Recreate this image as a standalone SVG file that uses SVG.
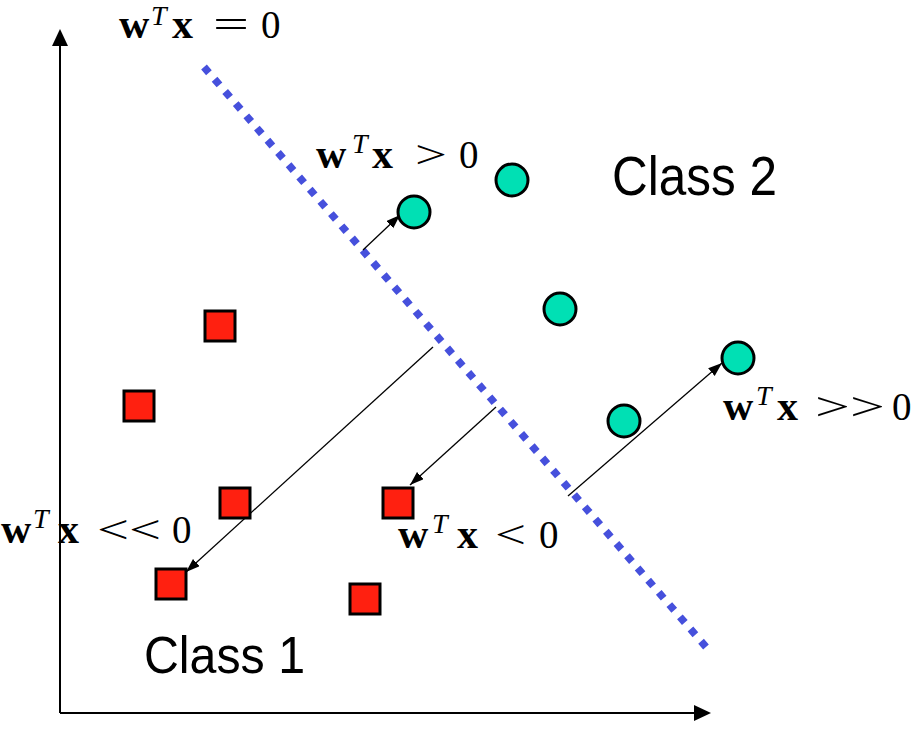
<svg xmlns="http://www.w3.org/2000/svg" width="918" height="753" viewBox="0 0 918 753">
<defs>
<style>
.axis{stroke:#000;stroke-width:2;fill:none}
.ah{fill:#000}
.bound{stroke:#4650dc;stroke-width:7.5;stroke-dasharray:7.5 8.66;fill:none}
.conn{stroke:#000;stroke-width:1.3;fill:none;marker-end:url(#arr)}
.c2{fill:#00e0b4;stroke:#000;stroke-width:3}
.c1{fill:#ff2010;stroke:#000;stroke-width:3}
.mb{font-family:"Liberation Serif","Times New Roman",serif;font-weight:bold;font-size:42px;fill:#000}
.mi{font-family:"Liberation Serif","Times New Roman",serif;font-style:italic;font-size:28px;fill:#000}
.mr{font-family:"Liberation Serif","Times New Roman",serif;font-size:39px;fill:#000}
.cls{font-family:"Liberation Sans",Arial,sans-serif;fill:#000}
</style>
<marker id="arr" markerUnits="userSpaceOnUse" markerWidth="16" markerHeight="12" refX="14" refY="5" orient="auto">
<path d="M0,0 L14,5 L0,10 z" fill="#000"/>
</marker>
</defs>

<g id="axes">
<line class="axis" x1="60" y1="713" x2="60" y2="40"/>
<polygon class="ah" points="60,29 52,46 68,46"/>
<line class="axis" x1="60" y1="713" x2="700" y2="713"/>
<polygon class="ah" points="711,713 694,705 694,721"/>
</g>

<g id="boundary">
<line class="bound" x1="204" y1="67" x2="706" y2="647"/>
</g>

<g id="connectors">
<line class="conn" x1="363" y1="250" x2="400" y2="215"/>
<line class="conn" x1="433" y1="347" x2="186" y2="572"/>
<line class="conn" x1="496" y1="407" x2="410" y2="485"/>
<line class="conn" x1="568" y1="496" x2="722" y2="363"/>
</g>

<g id="class2-points">
<circle class="c2" cx="414" cy="212" r="16"/>
<circle class="c2" cx="512" cy="180" r="16"/>
<circle class="c2" cx="560" cy="309" r="16"/>
<circle class="c2" cx="738" cy="358" r="16"/>
<circle class="c2" cx="624" cy="421" r="16"/>
</g>

<g id="class1-points">
<rect class="c1" x="205" y="311" width="30" height="30"/>
<rect class="c1" x="124" y="391" width="30" height="30"/>
<rect class="c1" x="220" y="488" width="30" height="30"/>
<rect class="c1" x="383" y="488" width="30" height="30"/>
<rect class="c1" x="156" y="569" width="30" height="30"/>
<rect class="c1" x="350" y="584" width="30" height="30"/>
</g>

<g id="label-boundary">
<text class="mb" x="119" y="38">w</text>
<text class="mi" x="151" y="25">T</text>
<text class="mb" x="172" y="38">x</text>
<text class="mr" x="213" y="38" textLength="36" lengthAdjust="spacingAndGlyphs">=</text>
<text class="mr" x="261" y="38">0</text>
</g>

<g id="label-gt0">
<text class="mb" x="316" y="168">w</text>
<text class="mi" x="352" y="153">T</text>
<text class="mb" x="372" y="168">x</text>
<text class="mr" x="415" y="168" textLength="32" lengthAdjust="spacingAndGlyphs">&gt;</text>
<text class="mr" x="459" y="168">0</text>
</g>

<g id="label-llt0">
<text class="mb" x="1" y="543">w</text>
<text class="mi" x="33" y="528">T</text>
<text class="mb" x="58" y="543">x</text>
<text class="mr" x="97" y="543" textLength="64" lengthAdjust="spacingAndGlyphs">&lt;&lt;</text>
<text class="mr" x="172" y="543">0</text>
</g>

<g id="label-lt0">
<text class="mb" x="398" y="548">w</text>
<text class="mi" x="432" y="533">T</text>
<text class="mb" x="457" y="548">x</text>
<text class="mr" x="495" y="548" textLength="31" lengthAdjust="spacingAndGlyphs">&lt;</text>
<text class="mr" x="539" y="548">0</text>
</g>

<g id="label-ggt0">
<text class="mb" x="723" y="420">w</text>
<text class="mi" x="756" y="405">T</text>
<text class="mb" x="777" y="420">x</text>
<text class="mr" x="815" y="420" textLength="70" lengthAdjust="spacingAndGlyphs">&gt;&gt;</text>
<text class="mr" x="892" y="420">0</text>
</g>

<g id="label-class2">
<text class="cls" x="612" y="195" font-size="55" textLength="165" lengthAdjust="spacingAndGlyphs">Class 2</text>
</g>
<g id="label-class1">
<text class="cls" x="144" y="673" font-size="52" textLength="161" lengthAdjust="spacingAndGlyphs">Class 1</text>
</g>
</svg>
